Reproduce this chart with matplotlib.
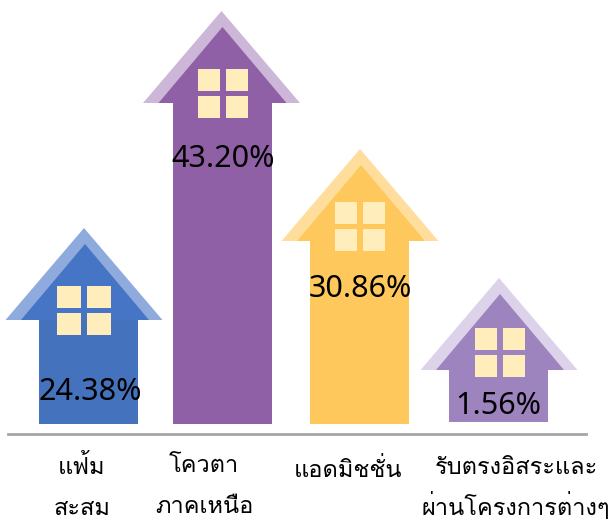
import matplotlib
matplotlib.use("Agg")
import matplotlib.pyplot as plt
from matplotlib.patches import Polygon, Rectangle

labels = ["24.38%", "43.20%", "30.86%", "1.56%"]
categories = ["แฟ้ม\nสะสม", "โควตา\nภาคเหนือ", "แอดมิชชั่น", "รับตรงอิสระและ\nผ่านโครงการต่างๆ"]
# bar heights as drawn in the picture, they are not to scale with the percentages
heights = [104, 321, 183, 52]
bottoms = [0, 0, 0, 2]

bar_colors = ["#4472BC", "#8F60A5", "#FFC85C", "#9E84BF"]
roof_colors = ["#8FAADC", "#CDB7D8", "#FFDD9C", "#DCD3EA"]
front_colors = ["#4575C4", "#8F60A5", "#FFC85C", "#9E84BF"]
window_color = "#FFEDBB"

centers = [88.5, 222.5, 359.5, 498.5]
roof_x = [84, 221.5, 360, 499]
window_x = [84, 222.5, 359.5, 499.5]
window_w = [24, 22, 22, 22]
window_rise = [34, 34, 39, 42]
text_x = [90, 223, 360, 498]
text_y = [32, 265, 135, 18]
cat_x = [82, 204, 348, 516]
cat_y = [-50, -48, -53, -50]

plt.rcParams["font.family"] = ["Loma", "Noto Sans", "DejaVu Sans"]

base = 424
fig = plt.figure(figsize=(6.12, 5.22), dpi=100)
ax = fig.add_axes([0, 0, 1, 1])
ax.set_xlim(0, 612)
# y is height above the baseline of the bars, one unit per pixel
ax.set_ylim(base - 522, base)
ax.axis("off")

ax.bar(centers, heights, width=99, color=bar_colors, bottom=bottoms, zorder=1)

for i in range(4):
    top = heights[i] + bottoms[i]
    rx = roof_x[i]
    ax.add_patch(Polygon([(rx - 78.5, top), (rx, top + 92), (rx + 78.5, top)], color=roof_colors[i], lw=0, zorder=2))
    ax.add_patch(Polygon([(rx - 63, top), (rx + 1, top + 76), (rx + 65, top)], color=front_colors[i], lw=0, zorder=3))
    w = window_w[i]
    for wx in (window_x[i] - w - 3, window_x[i] + 3):
        for wy in (top + window_rise[i] - 22, top + window_rise[i] - 22 - 27):
            ax.add_patch(Rectangle((wx, wy), w, 22, color=window_color, lw=0, zorder=4))

for x, y, s in zip(text_x, text_y, labels):
    ax.text(x, y, s, ha="center", va="center", fontsize=22, family=["Noto Sans", "DejaVu Sans"], color="black", zorder=5)

ax.plot([8, 586], [-9.5, -9.5], color="#A6A6A6", lw=2, zorder=1)

# each line placed on its own, thai marks would push the lines apart otherwise
for x, y, s in zip(cat_x, cat_y, categories):
    for n, line in enumerate(s.split("\n")):
        ax.text(x, y - 41 * n, line, ha="center", va="baseline", fontsize=17, color="black")

fig.savefig("out.png", dpi=100)
